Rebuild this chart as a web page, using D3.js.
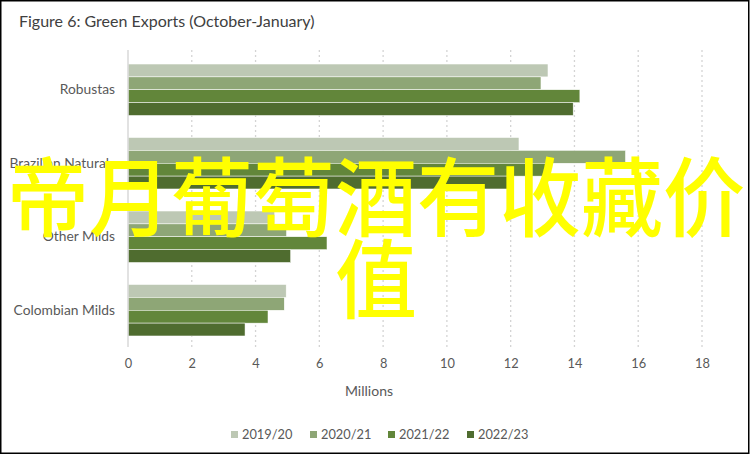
<!DOCTYPE html>
<html>
<head>
<meta charset="utf-8">
<script src="https://cdn.jsdelivr.net/npm/d3@7"></script>
<style>
  body { margin: 0; background: #fff; }
  svg { display: block; }
</style>
</head>
<body>
<svg id="svg"></svg>
<script>
// categories (top to bottom) and series
var categories = ['Robustas', 'Brazilian Naturals', 'Other Milds', 'Colombian Milds'];
var seasons = ['2019/20', '2020/21', '2021/22', '2022/23'];
var v2019 = [13.17, 12.26, 4.6, 4.96];
var v2020 = [12.95, 15.6, 4.97, 4.9];
var v2021 = [14.17, 13.1, 6.24, 4.39];
var v2022 = [13.96, 11.9, 5.1, 3.67];
var xTicks = [0, 2, 4, 6, 8, 10, 12, 14, 16, 18];
var colors = ['#bdc8b4', '#8ea676', '#62863a', '#4f6c2f'];

var seriesValues = [v2019, v2020, v2021, v2022];
var data = categories.map(function (c, i) {
  return {
    cat: c,
    vals: seasons.map(function (s, j) { return { season: s, value: seriesValues[j][i] }; })
  };
});

/* 基本參數 */
var width = 752, height = 456;
var plot = { left: 128, right: 702, top: 53, bottom: 347 };
var font = 'Lato, "Open Sans", sans-serif';

var scaleX = d3.scaleLinear().domain([0, 18]).range([plot.left, plot.right]);
var scaleY = d3.scaleBand().domain(categories).range([plot.top, plot.bottom])
  .paddingInner(0.3).paddingOuter(0.15);
var scaleS = d3.scaleBand().domain(seasons).range([0, scaleY.bandwidth()]);
var color = d3.scaleOrdinal().domain(seasons).range(colors);

var s = d3.select('#svg').attr('width', width).attr('height', height);

s.append('rect')
  .attr('x', 0.75).attr('y', 0.75).attr('width', 748).attr('height', 452.5)
  .attr('fill', '#fff').attr('stroke', '#000').attr('stroke-width', 1.5);

// title
s.append('text')
  .attr('x', 19).attr('y', 27)
  .attr('font-family', font).attr('font-size', 16).attr('fill', '#404040')
  .text('Figure 6: Green Exports (October-January)');

// gridlines
s.append('g').selectAll('line')
  .data(xTicks.slice(1))
  .enter().append('line')
  .attr('x1', function (d) { return scaleX(d); })
  .attr('x2', function (d) { return scaleX(d); })
  .attr('y1', plot.top - 3).attr('y2', plot.bottom)
  .attr('stroke', '#d4d4d4').attr('stroke-width', 1.3)
  .attr('stroke-dasharray', '2,3');

// bars
var groups = s.append('g').selectAll('g')
  .data(data)
  .enter().append('g')
  .attr('transform', function (d) { return 'translate(0,' + scaleY(d.cat) + ')'; });

groups.selectAll('rect')
  .data(function (d) { return d.vals; })
  .enter().append('rect')
  .attr('x', scaleX(0))
  .attr('y', function (d) { return scaleS(d.season); })
  .attr('width', function (d) { return scaleX(d.value) - scaleX(0); })
  .attr('height', scaleS.bandwidth())
  .attr('fill', function (d) { return color(d.season); })
  .attr('stroke', '#fff').attr('stroke-width', 0.5);

// y axis line and labels
s.append('line')
  .attr('x1', scaleX(0)).attr('x2', scaleX(0))
  .attr('y1', plot.top - 3).attr('y2', plot.bottom)
  .attr('stroke', '#d9d9d9').attr('stroke-width', 1.5);

var axisY = d3.axisLeft(scaleY).tickSize(0).tickPadding(13);
var gy = s.append('g')
  .attr('transform', 'translate(' + scaleX(0) + ',0)')
  .call(axisY);
gy.select('.domain').remove();
gy.selectAll('text')
  .attr('font-family', font).attr('font-size', 13.8).attr('fill', '#595959');

// x axis labels
var axisX = d3.axisBottom(scaleX).tickValues(xTicks).tickSize(0).tickPadding(0);
var gx = s.append('g')
  .attr('transform', 'translate(0,359)')
  .call(axisX);
gx.select('.domain').remove();
gx.selectAll('text')
  .attr('font-family', font).attr('font-size', 12.8).attr('fill', '#595959');

s.append('text')
  .attr('x', 369).attr('y', 396)
  .attr('text-anchor', 'middle')
  .attr('font-family', font).attr('font-size', 14).attr('fill', '#595959')
  .text('Millions');

// legend
var legendX = [231, 310, 388, 467];
var lg = s.append('g').selectAll('g')
  .data(seasons)
  .enter().append('g')
  .attr('transform', function (d, i) { return 'translate(' + legendX[i] + ',431)'; });
lg.append('rect')
  .attr('width', 7).attr('height', 7)
  .attr('fill', function (d) { return color(d); });
lg.append('text')
  .attr('x', 11).attr('y', 8)
  .attr('font-family', font).attr('font-size', 12.8).attr('fill', '#595959')
  .text(function (d) { return d; });

// overlay text
var overlay = ['帝月葡萄酒有收藏价', '值'];
s.append('g').selectAll('text')
  .data(overlay)
  .enter().append('text')
  .attr('transform', function (d, i) { return 'translate(376,' + (230 + i * 82) + ') scale(1,1.06)'; })
  .attr('text-anchor', 'middle')
  .attr('font-family', '"Noto Sans CJK SC", sans-serif')
  .attr('font-weight', 500)
  .attr('font-size', 82)
  .attr('fill', '#ffff00')
  .text(function (d) { return d; });
</script>
</body>
</html>
